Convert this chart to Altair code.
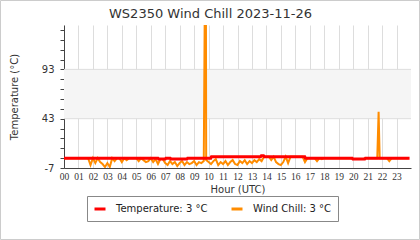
import altair as alt
import pandas as pd

# ---- data ----
hour_ticks = list(range(24))
y_ticks = [-7, 3, 13, 23, 33, 43, 53, 63, 73, 83, 93, 103, 113, 123, 133]
band_low = [43]
band_high = [93]
grid_y = [43, 93]

# temperature: breakpoints (hour, °C)
temp_hours = [0, 6.5, 6.55, 7.0, 7.05, 7.35, 7.4, 8.5, 8.55, 10.15, 10.2, 13.6, 13.65,
              13.8, 13.85, 16.65, 16.7, 19.93, 19.98, 20.8, 20.85, 23.9]
temp_vals = [3, 3, 2, 2, 3, 3, 2, 2, 3, 3, 4.5, 4.5, 5.5,
             5.5, 4.5, 4.5, 3, 3, 2, 2, 3, 3]

# wind chill: six readings per hour (every 10 min)
wc_by_hour = [
    [3, 3, 3, 3, 3, 3],
    [3, 3, 3, 3, 3, -4],
    [3, -2, 3, -1, -3, -6],
    [-2, -6, 3, 0, 3, 3],
    [-1, 3, 1, 3, 3, 3],
    [3, 0, 3, 1, -1, 0],
    [3, -1, 2, -3, 2, 2],
    [-2, -4, 0, -3, -1, -5],
    [-2, 0, -4, -1, -3, -2],
    [0, -4, -1, -2, 0, 1],
    [-1, -3, 0, 2, -4, -1],
    [-3, 0, -4, -1, 1, -3],
    [-4, 0, -2, 1, -3, 0],
    [-2, 1, -1, 2, 0, 4.5],
    [4.5, 4.5, 1, 4.5, -1, -3],
    [-4, -1, 4.5, -2, 4.5, 4.5],
    [4.5, 4.5, 4.5, 4.5, -1, 3],
    [3, 3, 3, 0, 3, 2],
    [3, 3, 3, 3, 3, 3],
    [3, 3, 3, 3, 3, 3],
    [2, 2, 2, 2, 2, 3],
    [3, 3, 3, 3, 3, 3],
    [3, 3, 3, 0, 3, 3],
    [3, 3, 3, 3, 3, 3],
]
# isolated spikes (hour, °C)
spike_hours = [9.8, 21.76]
spike_vals = [300, 50]

series_names = ["Temperature: 3 °C", "Wind Chill: 3 °C"]
series_colors = ["#ff0000", "#ff8c00"]

# ---- build tables ----
wc_rows = []
for h, vals in enumerate(wc_by_hour):
    for k, v in enumerate(vals):
        wc_rows.append((h + k / 6.0, v))
wc_rows += list(zip(spike_hours, spike_vals))
wc_rows.sort()
wc_df = pd.DataFrame(wc_rows, columns=["hour", "value"])
wc_df["series"] = series_names[1]

temp_df = pd.DataFrame({"hour": temp_hours, "value": temp_vals})
temp_df["series"] = series_names[0]

band_df = pd.DataFrame({"lo": band_low, "hi": band_high})
grid_df = pd.DataFrame({"y": grid_y})

FONT = "DejaVu Sans"
ydom = [-7, 138]

x_enc = alt.X("hour:Q",
              scale=alt.Scale(domain=[0, 24], nice=False, zero=False),
              axis=alt.Axis(values=hour_ticks, title="Hour (UTC)",
                            labelExpr="datum.value < 10 ? '0' + datum.value : '' + datum.value",
                            ticks=False, grid=True, gridColor="#dddddd",
                            domainColor="#444444", labelFontSize=9.5, labelPadding=3,
                            labelFont="Liberation Sans Narrow",
                            labelColor="#333333", titleFontSize=10, titleColor="#333333",
                            titleFontWeight="normal", titlePadding=4, labelFlush=False,
                            labelOverlap=False))

y_axis = alt.Axis(values=y_ticks, title="Temperature (°C)",
                  labelExpr="(datum.value + 7) % 50 == 0 ? '' + datum.value : ''",
                  grid=False, tickSize=4, tickColor="#444444",
                  domainColor="#444444", labelFontSize=10, labelColor="#333333",
                  labelOverlap=False, labelPadding=6, labelFlush=False,
                  titleFontSize=10, titleColor="#333333", titleFontWeight="normal",
                  titlePadding=22)
y_scale = alt.Scale(domain=ydom, nice=False, zero=False)

color_scale = alt.Scale(domain=series_names, range=series_colors)
legend = alt.Legend(title=None, orient="none", legendX=23, legendY=171,
                    direction="horizontal", strokeColor="#888888", padding=6,
                    symbolType="stroke", symbolStrokeWidth=3, symbolSize=121,
                    labelFontSize=10, labelColor="#222222", columnPadding=17,
                    labelOffset=9, fillColor="white")

band = alt.Chart(band_df).mark_rect(color="#f5f5f5").encode(
    y=alt.Y("lo:Q", scale=y_scale, axis=y_axis),
    y2="hi:Q",
)
rules = alt.Chart(grid_df).mark_rule(color="#dddddd", strokeWidth=1).encode(
    y=alt.Y("y:Q", scale=y_scale, axis=y_axis))

wc_line = alt.Chart(wc_df).mark_line(strokeWidth=2, clip=True, interpolate="linear").encode(
    x=x_enc, y=alt.Y("value:Q", scale=y_scale, axis=y_axis),
    color=alt.Color("series:N", scale=color_scale, legend=legend),
)
temp_line = alt.Chart(temp_df).mark_line(strokeWidth=3, clip=True).encode(
    x=x_enc, y=alt.Y("value:Q", scale=y_scale, axis=y_axis),
    color=alt.Color("series:N", scale=color_scale, legend=legend),
)
border = alt.Chart(band_df).mark_rect(fill=None, stroke="#cccccc", strokeWidth=1).encode(
    x=alt.value(-63.5), x2=alt.value(355.5), y=alt.value(-24.5), y2=alt.value(214.5)
)

chart = alt.layer(band, rules, wc_line, temp_line, border).properties(
    width=347, height=143,
    title=alt.TitleParams("WS2350 Wind Chill 2023-11-26", fontSize=13, font=FONT,
                          fontWeight="normal", color="#333333", anchor="middle",
                          frame="group", dx=-27, offset=-31, baseline="alphabetic"),
    autosize=alt.AutoSizeParams(type="none"),
    padding={"left": 64, "top": 25, "right": 9, "bottom": 72},
).configure(font=FONT).configure_view(stroke=None)

chart.save("out.html", embed_options={"renderer": "svg", "actions": False})
